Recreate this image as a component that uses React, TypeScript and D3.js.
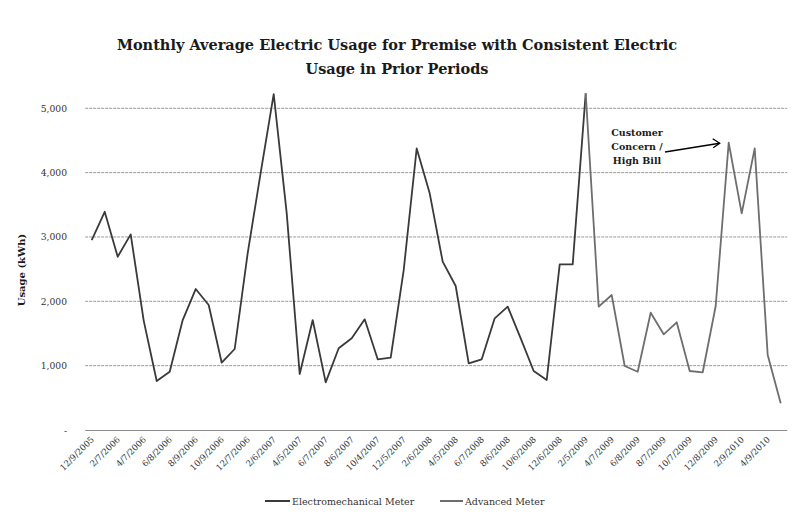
import React from "react";
import * as d3 from "d3";

const tickDates = [
  "12/9/2005", "2/7/2006", "4/7/2006", "6/8/2006", "8/9/2006", "10/9/2006",
  "12/7/2006", "2/6/2007", "4/5/2007", "6/7/2007", "8/6/2007", "10/4/2007",
  "12/5/2007", "2/6/2008", "4/5/2008", "6/7/2008", "8/6/2008", "10/6/2008",
  "12/6/2008", "2/5/2009", "4/7/2009", "6/8/2009", "8/7/2009", "10/7/2009",
  "12/8/2009", "2/9/2010", "4/9/2010",
];

// monthly readings, index 0 = Dec 2005
const electromechanical = [
  2953, 3392, 2693, 3041, 1700, 761, 906, 1709, 2191, 1942, 1046, 1259,
  2750, 4000, 5221, 3370, 870, 1709, 741, 1270, 1425, 1720, 1099, 1124,
  2486, 4377, 3678, 2616, 2238, 1036, 1099, 1736, 1917, 1425, 917, 777,
  2575, 2575, 5232,
];
const advancedStart = 38;
const advanced = [
  5232, 1917, 2098, 995, 906, 1823, 1487, 1674, 917, 897, 1927, 4465,
  3367, 4377, 1165, 415,
];

const yTicks = [0, 1000, 2000, 3000, 4000, 5000];
const titleLines = [
  "Monthly Average Electric Usage for Premise with Consistent Electric",
  "Usage in Prior Periods",
];
const annotationLines = ["Customer", "Concern /", "High Bill"];
const annotationIndex = 49;

const W = 799;
const H = 526;
const FONT = "'DejaVu Serif', 'Liberation Serif', serif";

export default function App() {
  const n = electromechanical.length + advanced.length - 1;
  const left = 85.2;
  const right = 787.2;
  const x = d3
    .scaleBand<number>()
    .domain(d3.range(n))
    .range([left, right]);
  const cx = (i: number) => (x(i) as number) + x.bandwidth() / 2;
  const yS = d3.scaleLinear().domain([0, 5000]).range([430, 108.3]);

  const line = d3
    .line<number>()
    .x((_, i) => cx(i))
    .y((d) => yS(d));
  const lineAdv = d3
    .line<number>()
    .x((_, i) => cx(i + advancedStart))
    .y((d) => yS(d));
  const fmt = d3.format(",");

  const ax = cx(annotationIndex);
  const ay = yS(advanced[annotationIndex - advancedStart]);

  return (
    <svg
      width={W}
      height={H}
      style={{ position: "fixed", left: 0, top: 0, background: "#fff" }}
      fontFamily={FONT}
    >
      <rect width={W} height={H} fill="#fff" />
      {titleLines.map((t, i) => (
        <text
          key={i}
          x={397}
          y={50 + i * 24}
          textAnchor="middle"
          fontWeight="bold"
          fontSize={14.5}
          fill="#1a1a1a"
        >
          {t}
        </text>
      ))}
      {yTicks.map((t) => (
        <g key={t}>
          {t > 0 && (
            <line
              x1={left}
              x2={right}
              y1={yS(t)}
              y2={yS(t)}
              stroke="#9a9a9a"
              strokeWidth={1}
              strokeDasharray="3 1"
            />
          )}
          <text
            x={67}
            y={yS(t) + 3.5}
            textAnchor="end"
            fontSize={9.2}
            fill="#333"
          >
            {t === 0 ? "-" : fmt(t)}
          </text>
        </g>
      ))}
      <line x1={left} x2={right} y1={430.5} y2={430.5} stroke="#8c8c8c" strokeWidth={1} />
      <text
        transform="translate(25,270) rotate(-90)"
        textAnchor="middle"
        fontWeight="bold"
        fontSize={10}
        fill="#1a1a1a"
      >
        Usage (kWh)
      </text>
      {tickDates.map((d, i) => (
        <text
          key={d}
          transform={`translate(${cx(i * 2) + 3},${440}) rotate(-45)`}
          textAnchor="end"
          fontSize={8.6}
          fill="#333"
        >
          {d}
        </text>
      ))}
      <path d={line(electromechanical) || ""} fill="none" stroke="#3a3a3a" strokeWidth={1.8} strokeLinejoin="round" />
      <path d={lineAdv(advanced) || ""} fill="none" stroke="#6e6e6e" strokeWidth={1.8} strokeLinejoin="round" />
      {annotationLines.map((t, i) => (
        <text
          key={t}
          x={637}
          y={136 + i * 14}
          textAnchor="middle"
          fontWeight="bold"
          fontSize={9.5}
          fill="#1a1a1a"
        >
          {t}
        </text>
      ))}
      <line x1={665} y1={152} x2={ax - 9} y2={ay + 0.5} stroke="#000" strokeWidth={1.5} />
      <path
        d={`M${ax - 16},${ay - 4} L${ax - 9},${ay + 0.5} L${ax - 15.5},${ay + 5}`}
        fill="none"
        stroke="#000"
        strokeWidth={1.3}
      />
      <g>
        <line x1={265} x2={290} y1={501} y2={501} stroke="#3a3a3a" strokeWidth={2} />
        <text x={292} y={504.5} fontSize={9.5} fill="#333">
          Electromechanical Meter
        </text>
        <line x1={440} x2={463} y1={501} y2={501} stroke="#6e6e6e" strokeWidth={2} />
        <text x={465} y={504.5} fontSize={9.5} fill="#333">
          Advanced Meter
        </text>
      </g>
    </svg>
  );
}
